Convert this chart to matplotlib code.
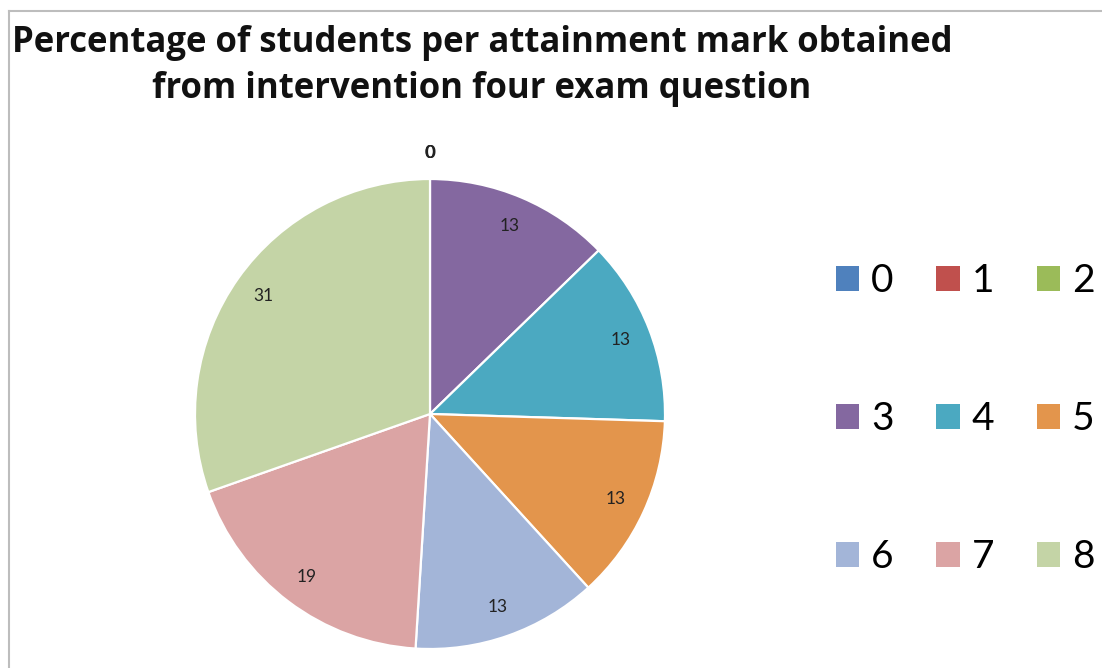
import numpy as np
import matplotlib
matplotlib.use("Agg")
import matplotlib.pyplot as plt
from matplotlib.patches import Patch
from matplotlib.lines import Line2D

marks = ["0", "1", "2", "3", "4", "5", "6", "7", "8"]
percentages = [0, 0, 0, 13, 13, 13, 13, 19, 31]
colors = ["#4F81BD", "#C0504D", "#9BBB59", "#8468A0", "#4BA9C1",
          "#E3954C", "#A3B5D8", "#DBA4A4", "#C4D4A6"]
title = ("Percentage of students per attainment mark obtained\n"
         "from intervention four exam question")

plt.rcParams["font.family"] = ["Lato", "DejaVu Sans"]

W, H = 1102, 668
fig = plt.figure(figsize=(W / 100, H / 100), dpi=100)

# chart frame (top and left edges visible)
fig.add_artist(Line2D([9 / W, 9 / W], [0, 1 - 11 / H], transform=fig.transFigure,
                      color="#BDBDBD", lw=1.5))
fig.add_artist(Line2D([9 / W, 1], [1 - 11 / H, 1 - 11 / H], transform=fig.transFigure,
                      color="#BDBDBD", lw=1.5))

# title
fig.text(482 / W, 1 - 66 / H, title, ha="center", va="center",
         fontsize=25, fontweight="bold", family=["Open Sans", "DejaVu Sans"],
         linespacing=1.35, color="#111111")

# pie
cx, cy, r = 430, 414, 235
ax = fig.add_axes([(cx - r) / W, (H - cy - r) / H, 2 * r / W, 2 * r / H])
wedges, _ = ax.pie(percentages, colors=colors, startangle=90, counterclock=False,
                   radius=1.0,
                   wedgeprops=dict(edgecolor="white", linewidth=1.6))
ax.set_xlim(-1.0, 1.0)
ax.set_ylim(-1.0, 1.0)
ax.set_aspect("equal")
ax.axis("off")

for w, val in zip(wedges, percentages):
    ang = np.deg2rad((w.theta1 + w.theta2) / 2)
    dist = 0.87 if val > 0 else 1.11
    ax.text(dist * np.cos(ang), dist * np.sin(ang), f"{val:g}",
            ha="center", va="center", fontsize=12.5, color="#222222")

# legend laid out row by row in three columns
handles = [Patch(facecolor=c, edgecolor="none") for c in colors]
order = [0, 3, 6, 1, 4, 7, 2, 5, 8]
fig.legend([handles[i] for i in order], [marks[i] for i in order],
           ncol=3, loc="center left", bbox_to_anchor=(836 / W, 1 - 419 / H),
           frameon=False, fontsize=28, handlelength=0.6, handleheight=0.6,
           handletextpad=0.3, columnspacing=1.1, labelspacing=2.62,
           borderpad=0, borderaxespad=0)

fig.savefig("out.png", dpi=100)
